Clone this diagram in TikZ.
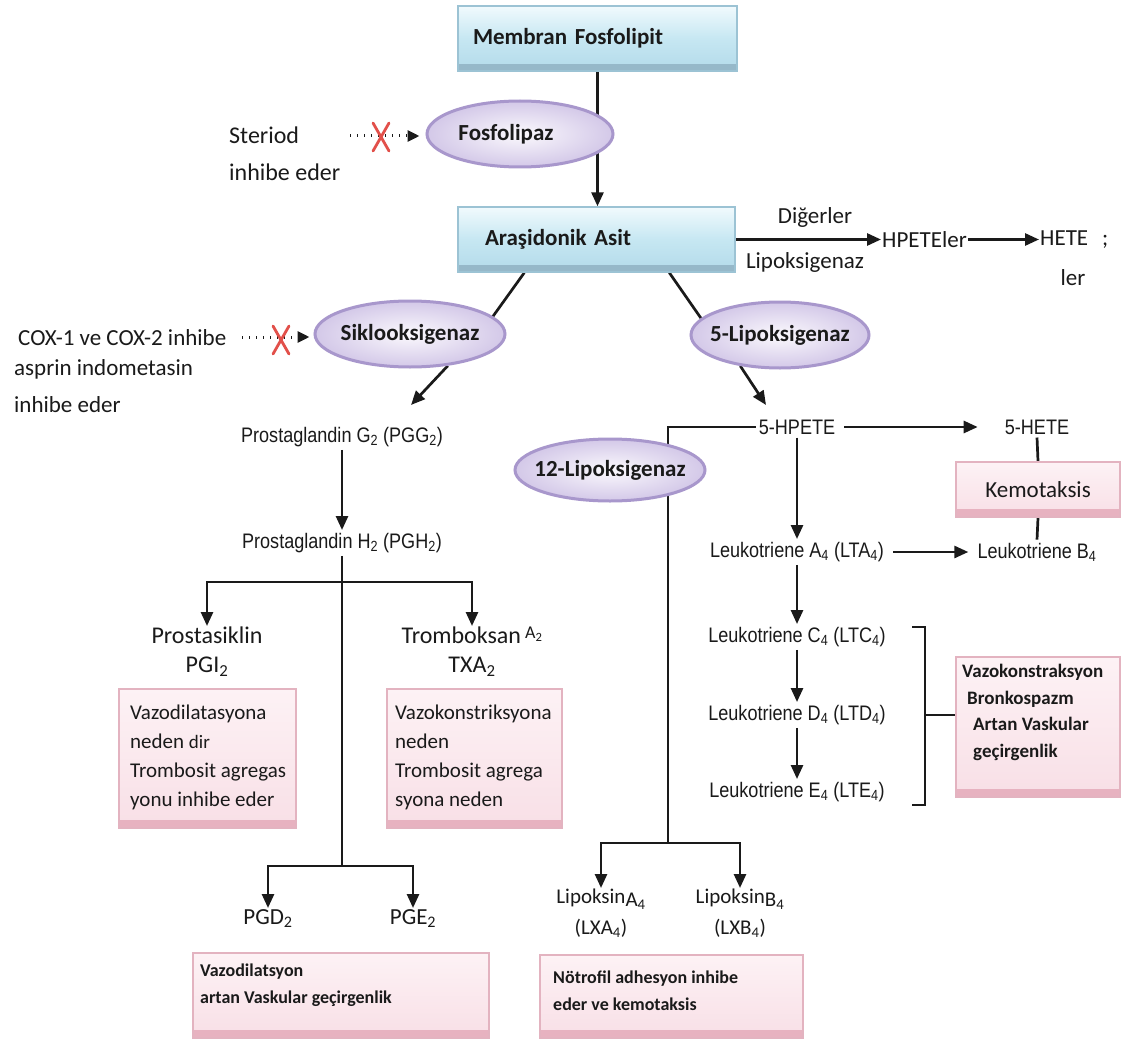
\documentclass[tikz,border=0pt]{standalone}
\usepackage{fontspec}
\setmainfont{Carlito}
\newfontfamily\narrowfont[FakeStretch=0.86]{Liberation Sans}
\usetikzlibrary{arrows.meta,shapes.geometric,calc,backgrounds}
\definecolor{ink}{HTML}{1A1A1A}
\definecolor{blueA}{HTML}{F1FAFD}
\definecolor{blueM}{HTML}{C6E7F2}
\definecolor{blueB}{HTML}{B3DAEA}
\definecolor{blueedge}{HTML}{9CC3D4}
\definecolor{bluedark}{HTML}{96B8C9}
\definecolor{lavin}{HTML}{FBF9FD}
\definecolor{lavout}{HTML}{D3C8E8}
\definecolor{lavedge}{HTML}{A897CC}
\definecolor{pinkA}{HTML}{FDF2F5}
\definecolor{pinkB}{HTML}{F8DFE6}
\definecolor{pinkedge}{HTML}{E3B3C0}
\definecolor{pinkdark}{HTML}{E7B2C0}
\definecolor{xred}{HTML}{E2504A}
\newcommand\fsz[2]{\fontsize{#1}{#2}\selectfont}
\newcommand\lowsub[1]{\textsubscript{#1}}
\tikzset{
  ln/.style={draw=ink, line width=2.7pt},
  arr/.style={ln, -{Triangle[length=14pt,width=12pt]}},
  dotarr/.style={draw=ink, line width=3pt, dash pattern=on 1pt off 6pt, -{Triangle[length=12pt,width=11pt]}},
  xline/.style={draw=xred, line width=2.8pt, line cap=round},
  bluebox/.style={rectangle, draw=blueedge, line width=1.4pt, top color=blueA, bottom color=blueB, middle color=blueM,
    path picture={\fill[bluedark] ([yshift=7pt]path picture bounding box.south west) rectangle (path picture bounding box.south east);}},
  enz/.style={ellipse, draw=lavedge, line width=3pt, inner color=lavin, outer color=lavout, minimum width=190pt, minimum height=66pt, inner sep=0pt},
  enzlabel/.style={font=\bfseries\fsz{23}{27}, text=ink},
  pinkbox/.style={rectangle, draw=pinkedge, line width=1.6pt, top color=pinkA, bottom color=pinkB,
    path picture={\fill[pinkdark] ([yshift=8pt]path picture bounding box.south west) rectangle (path picture bounding box.south east);}},
  cal/.style={font=\fsz{23}{27}, text=ink, inner sep=2pt},
  nar/.style={font=\narrowfont\fsz{21}{25}, text=ink, inner sep=3pt},
  boxtxt/.style={font=\fsz{21}{29}, text=ink, align=left, inner sep=0pt, anchor=north west},
}
\begin{document}
\begin{tikzpicture}[x=1pt,y=-1pt]
\useasboundingbox (0,0) rectangle (1142,1043);
% ---------- top ----------
\node[bluebox, minimum width=279pt, minimum height=65pt, inner xsep=15pt, text width=249pt, align=left, font=\bfseries\fsz{23}{27}, text=ink] (mem) at (597.5,38.5) {Membran Fosfolipit};
\node[enz, minimum width=186pt, label={[enzlabel,xshift=-14pt]center:Fosfolipaz}] (fosfo) at (520,134) {};
\node[cal, align=left, anchor=west, font=\fsz{24}{37}] (ster) at (227,154) {Steriod\\inhibe eder};
\coordinate (sdot) at (350,136);
\node[inner sep=0pt, minimum size=1pt] (sx) at (381,137) {};
\node[bluebox, minimum width=277pt, minimum height=65pt, inner xsep=27pt, text width=223pt, align=left, font=\bfseries\fsz{23}{27}, text=ink] (ara) at (596.5,239.5) {Araşidonik Asit};
\node[cal] (dig) at (815,217) {Diğerler};
\node[cal] (lipk) at (805,262) {Lipoksigenaz};
\node[cal, anchor=west, inner sep=1pt] (hpetes) at (881,239.5) {HPETEler};
\node[cal, anchor=west, inner sep=1pt] (hetes) at (1039,239.5) {HETE\hspace{14pt};};
\node[cal] (ler) at (1073,278) {ler};
% ---------- enzymes ----------
\node[enz, label={[enzlabel]center:Siklooksigenaz}] (sikl) at (410,334) {};
\node[enz, minimum width=178pt, label={[enzlabel]center:5-Lipoksigenaz}] (lip5) at (780,335) {};
\node[cal, anchor=west, align=left, font=\fsz{23}{30}] (cox) at (12,371) {\hspace{4pt}COX-1 ve COX-2 inhibe\\asprin indometasin\\[7pt]inhibe eder};
\coordinate (cdot) at (242,337);
\node[inner sep=0pt, minimum size=1pt] (cx) at (281,340) {};
\coordinate (pggin) at (411,405);
\coordinate (hpin) at (766,405);
% ---------- prostaglandin branch ----------
\node[nar] (pgg) at (342,437) {Prostaglandin G\lowsub{2} (PGG\lowsub{2})};
\node[nar] (pgh) at (342,543) {Prostaglandin H\lowsub{2} (PGH\lowsub{2})};
\coordinate (pgb) at (342,582);
\node[cal, align=center, anchor=north, font=\fsz{24}{29}, inner sep=1pt] (prost) at (207,626) {Prostasiklin\\PGI\lowsub{2}};
\node[cal, align=center, anchor=north, font=\fsz{24}{29}, inner sep=1pt] (trom) at (472,626) {Tromboksan\,\raisebox{5pt}{\fsz{18}{18}A\lowsub{2}}\\TXA\lowsub{2}};
\node[pinkbox, minimum width=177pt, minimum height=139pt] (pbox) at (207.5,758.5) {};
\node[boxtxt] (ptxt) at (130,705) {Vazodilatasyona\\neden {\fsz{19}{29}dir}\\Trombosit agregas\\yonu inhibe eder};
\node[pinkbox, minimum width=175pt, minimum height=139pt] (tbox) at (474.5,758.5) {};
\node[boxtxt] (ttxt) at (395,705) {Vazokonstriksyona\\neden\\Trombosit agrega\\syona neden};
\coordinate (pgj) at (342,866);
\node[cal, anchor=north, inner sep=1pt] (pgd) at (268,908) {PGD\lowsub{2}};
\node[cal, anchor=north, inner sep=1pt] (pge) at (413,908) {PGE\lowsub{2}};
\node[pinkbox, minimum width=296pt, minimum height=85pt] (dbox) at (341,995.5) {};
\node[boxtxt, font=\bfseries\fsz{18}{27}] (dtxt) at (200,964) {Vazodilatsyon\\artan Vaskular geçirgenlik};
% ---------- leukotriene branch ----------
\node[nar] (hpete) at (797,427) {5-HPETE};
\node[nar] (hete) at (1037,427) {5-HETE};
\node[pinkbox, minimum width=164pt, minimum height=55pt, font=\fsz{23}{27}, text=ink] (kemo) at (1038,489.5) {Kemotaksis};
\node[nar] (lta) at (797,552) {Leukotriene A\lowsub{4} (LTA\lowsub{4})};
\node[nar] (ltb) at (1037,552) {Leukotriene B\lowsub{4}};
\node[nar] (ltc) at (797,637) {Leukotriene C\lowsub{4} (LTC\lowsub{4})};
\node[nar] (ltd) at (797,715) {Leukotriene D\lowsub{4} (LTD\lowsub{4})};
\node[nar] (lte) at (797,792) {Leukotriene E\lowsub{4} (LTE\lowsub{4})};
\coordinate (brt) at (912,627);
\coordinate (brb) at (912,805);
\coordinate (brm) at (925,715);
\node[pinkbox, minimum width=164pt, minimum height=140pt] (vbox) at (1038,727) {};
\node[boxtxt, font=\bfseries\fsz{19}{26.7}] (vtxt) at (962,664) {Vazokonstraksyon\\\hspace{5pt}Bronkospazm\\\hspace{11pt}Artan Vaskular\\\hspace{11pt}geçirgenlik};
\node[enz, minimum height=62pt, label={[enzlabel]center:12-Lipoksigenaz}] (lip12) at (610,470) {};
\coordinate (lxj) at (668,843);
\node[cal, anchor=north, align=center, font=\fsz{21}{31}, inner sep=1pt] (lxa) at (601,888) {Lipoksin\raisebox{-3pt}{A\lowsub{4}}\\(LXA\lowsub{4})};
\node[cal, anchor=north, align=center, font=\fsz{21}{31}, inner sep=1pt] (lxb) at (740,888) {Lipoksin\raisebox{-3pt}{B\lowsub{4}}\\(LXB\lowsub{4})};
\node[pinkbox, minimum width=263pt, minimum height=83pt] (lbox) at (671.5,996.5) {};
\node[boxtxt, font=\bfseries\fsz{18}{27}] (ltxt) at (553,971) {Nötrofil adhesyon inhibe\\eder ve kemotaksis};
% ---------- red crosses ----------
\draw[xline] ($(sx)+(-8,-14)$) -- ($(sx)+(8,14)$);
\draw[xline] ($(sx)+(8,-14)$) -- ($(sx)+(-8,14)$);
\draw[xline] ($(cx)+(-8,-14)$) -- ($(cx)+(8,14)$);
\draw[xline] ($(cx)+(8,-14)$) -- ($(cx)+(-8,14)$);
% ---------- connectors ----------
\begin{scope}[on background layer]
\fill[white] (0,0) rectangle (1142,1043);
\draw[arr] (mem.south) -- (mem.south |- ara.north);
\draw[dotarr, shorten >=6pt] (sdot) -- (sdot -| fosfo.west);
\draw[arr] (ara.east) -- (ara.east -| hpetes.west);
\draw[arr] (hpetes.east) -- (hetes.west);
\draw[ln] ($(ara.south west)+(67,0)$) -- (sikl.12);
\draw[ln] ($(ara.south west)+(212,0)$) -- (lip5.168);
\draw[dotarr, shorten >=4pt] (cdot) -- (cdot -| sikl.west);
\draw[arr] (sikl.-40) -- (pggin);
\draw[arr] (lip5.-142) -- (hpin);
\draw[arr] (pgg.south) -- (pgh.north);
\draw[ln] (pgh.south) -- (pgj);
\draw[arr] (pgb) -| (prost.north);
\draw[arr] (pgb) -| (trom.north);
\draw[arr] (pgj) -| (pgd.north);
\draw[arr] (pgj) -| (pge.north);
\draw[ln] (hpete.west) -| (lxj);
\draw[arr] (lxj) -| (lxa.north);
\draw[arr] (lxj) -| (lxb.north);
\draw[arr, shorten <=6pt, shorten >=24pt] (hpete.east) -- (hete.west);
\draw[ln] (hete.south) -- (kemo.north);
\draw[ln] (kemo.south) -- (ltb.north);
\draw[arr] (hpete.south) -- (lta.north);
\draw[arr, shorten <=6pt, shorten >=6pt] (lta.east) -- (ltb.west);
\draw[arr] (lta.south) -- (ltc.north);
\draw[arr] (ltc.south) -- (ltd.north);
\draw[arr] (ltd.south) -- (lte.north);
\draw[ln] (brt) -- (brt -| brm) -- (brb -| brm) -- (brb);
\draw[ln] (brm) -- (brm -| vbox.west);
\end{scope}
\end{tikzpicture}
\end{document}
